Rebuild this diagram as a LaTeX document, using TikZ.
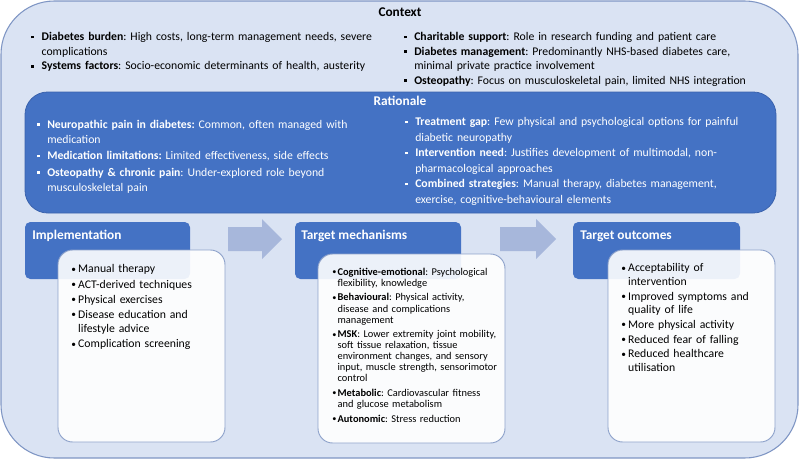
\documentclass[tikz,border=0pt]{standalone}
\usepackage{fontspec}
\setmainfont{Carlito}
\usetikzlibrary{fit}
\definecolor{bgfill}{HTML}{DAE3F3}
\definecolor{bgline}{HTML}{7F96C4}
\definecolor{darkblue}{HTML}{4472C4}
\definecolor{darkline}{HTML}{3B63AD}
\definecolor{arrowc}{HTML}{A7B7DB}
\definecolor{wline}{HTML}{8FA3CB}
\frenchspacing
\newlength{\bind}
\newlength{\itemgap}
\newcommand{\sqb}{\raisebox{0.2em}{\rule{0.22em}{0.22em}}}
\newcommand{\rdb}{\raisebox{0.05em}{\scalebox{0.8}{•}}}
\newcommand{\fitem}[2]{\par\leftskip=\bind\parskip=0pt\noindent\hspace*{-\bind}\makebox[\bind][l]{#1}#2}
\newcommand{\litem}[2]{\par\vspace{\itemgap}\fitem{#1}{#2}}
\tikzset{
  outerbox/.style={draw=bgline, line width=0.8pt, fill=bgfill, rounded corners=40pt, inner sep=0pt},
  ratbox/.style={draw=darkline, line width=0.6pt, fill=darkblue, rounded corners=17pt, inner sep=0pt},
  headbox/.style={fill=darkblue, rounded corners=4pt, inner sep=0pt},
  whitebox/.style={draw=wline, line width=0.7pt, fill=white, fill opacity=0.9, text opacity=1, rounded corners=11pt, inner sep=0pt},
  blockarrow/.style={fill=arrowc, draw=none},
  titletext/.style={font=\bfseries\fontsize{10}{12}\selectfont, inner sep=0pt},
  headtext/.style={font=\bfseries\fontsize{10}{12}\selectfont, text=white, inner sep=0pt, anchor=west},
  toplist/.style={anchor=north west, inner sep=0pt, align=left, font=\fontsize{8.8}{10.9}\selectfont},
  ratlist/.style={anchor=north west, inner sep=0pt, align=left, text=white, font=\fontsize{8.8}{11.2}\selectfont},
  boxlist/.style={anchor=north west, inner sep=0pt, align=left, font=\fontsize{8.8}{11}\selectfont},
  smalllist/.style={anchor=north west, inner sep=0pt, align=left, font=\fontsize{7.8}{8.3}\selectfont},
}
\begin{document}
\begin{tikzpicture}[x=0.75pt,y=-0.75pt]
\useasboundingbox (0,0) rectangle (800,461);
% outer context box
\node[outerbox, fit={(1,1)(798,458)}] (context) {};
\node[titletext] (ctxtitle) at (400,12) {Context};
\node[toplist, text width=290pt] (ctxleft) at (31,26) {\setlength{\bind}{7.8pt}\setlength{\itemgap}{0pt}%
\fitem{\sqb}{\textbf{Diabetes burden}: High costs, long-term management needs, severe\\complications}%
\litem{\sqb}{\textbf{Systems factors}: Socio-economic determinants of health, austerity}\par};
\node[toplist, text width=290pt] (ctxright) at (404,26) {\setlength{\bind}{7.5pt}\setlength{\itemgap}{0pt}%
\fitem{\sqb}{\textbf{Charitable support}: Role in research funding and patient care}%
\litem{\sqb}{\textbf{Diabetes management}: Predominantly NHS-based diabetes care,\\minimal private practice involvement}%
\litem{\sqb}{\textbf{Osteopathy}: Focus on musculoskeletal pain, limited NHS integration}\par};
% rationale
\node[ratbox, fit={(25,92)(776,213)}] (rationale) {};
\node[titletext, text=white] (rattitle) at (400,101) {Rationale};
\node[ratlist, text width=290pt] (ratleft) at (37,113) {\setlength{\bind}{7.5pt}\setlength{\itemgap}{1.2pt}%
\fitem{\sqb}{\textbf{Neuropathic pain in diabetes:} Common, often managed with\\medication}%
\litem{\sqb}{\textbf{Medication limitations:} Limited effectiveness, side effects}%
\litem{\sqb}{\textbf{Osteopathy \& chronic pain}: Under-explored role beyond\\musculoskeletal pain}\par};
\node[ratlist, text width=290pt, font=\fontsize{8.8}{11.6}\selectfont] (ratright) at (405,110) {\setlength{\bind}{7.5pt}\setlength{\itemgap}{0pt}%
\fitem{\sqb}{\textbf{Treatment gap}: Few physical and psychological options for painful\\diabetic neuropathy}%
\litem{\sqb}{\textbf{Intervention need}: Justifies development of multimodal, non-\\pharmacological approaches}%
\litem{\sqb}{\textbf{Combined strategies}: Manual therapy, diabetes management,\\exercise, cognitive-behavioural elements}\par};
% headers
\node[headbox, fit={(25,222)(190,279)}] (impl) {};
\node[headbox, fit={(295,222)(461,279)}] (mech) {};
\node[headbox, fit={(573,222)(740,279)}] (outc) {};
\node[headtext] (impltitle) at (32,236) {Implementation};
\node[headtext] (mechtitle) at (301,236) {Target mechanisms};
\node[headtext] (outctitle) at (580,236) {Target outcomes};
% arrows
\fill[blockarrow] (228,227) -- (262,227) -- (262,219) -- (282,239) -- (262,259) -- (262,251) -- (228,251) -- cycle;
\fill[blockarrow] (500,227) -- (536,227) -- (536,219) -- (556,239) -- (536,259) -- (536,251) -- (500,251) -- cycle;
% white boxes
\node[whitebox, fit={(58,250)(225,442)}] (implbox) {};
\node[whitebox, fit={(318,254)(505,443)}] (mechbox) {};
\node[whitebox, fit={(608,250)(775,442)}] (outcbox) {};
% lists
\node[boxlist, text width=115pt] (impllist) at (71,258) {\setlength{\bind}{5.2pt}\setlength{\itemgap}{0.3pt}%
\fitem{\rdb}{Manual therapy}%
\litem{\rdb}{ACT-derived techniques}%
\litem{\rdb}{Physical exercises}%
\litem{\rdb}{Disease education and\\lifestyle advice}%
\litem{\rdb}{Complication screening}\par};
\node[smalllist, text width=140pt] (mechlist) at (332,264) {\setlength{\bind}{4pt}\setlength{\itemgap}{2.6pt}%
\fitem{\rdb}{\textbf{Cognitive-emotional}: Psychological\\flexibility, knowledge}%
\litem{\rdb}{\textbf{Behavioural}: Physical activity,\\disease and complications\\management}%
\litem{\rdb}{\textbf{MSK}: Lower extremity joint mobility,\\soft tissue relaxation, tissue\\environment changes, and sensory\\input, muscle strength, sensorimotor\\control}%
\litem{\rdb}{\textbf{Metabolic}: Cardiovascular fitness\\and glucose metabolism}%
\litem{\rdb}{\textbf{Autonomic}: Stress reduction}\par};
\node[boxlist, text width=115pt, font=\fontsize{8.8}{10.2}\selectfont] (outclist) at (621,258) {\setlength{\bind}{5.2pt}\setlength{\itemgap}{0.8pt}%
\fitem{\rdb}{Acceptability of\\intervention}%
\litem{\rdb}{Improved symptoms and\\quality of life}%
\litem{\rdb}{More physical activity}%
\litem{\rdb}{Reduced fear of falling}%
\litem{\rdb}{Reduced healthcare\\utilisation}\par};
\end{tikzpicture}
\end{document}
